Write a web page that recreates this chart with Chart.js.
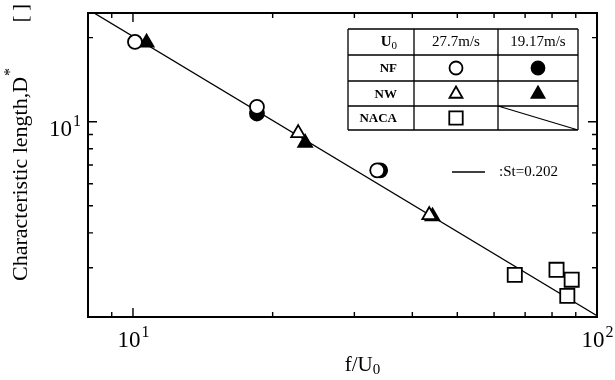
<!DOCTYPE html>
<html>
<head>
<meta charset="utf-8">
<script src="https://cdn.jsdelivr.net/npm/chart.js@4"></script>
<style>
  body { margin: 0; background: #fff; }
  #chart { display: block; }
</style>
</head>
<body>
<canvas id="chart" width="615" height="380"></canvas>
<script>
const nf277X = [10.1, 18.5, 33.6];
const nf277Y = [19.3, 11.3, 6.7];
const nf1917X = [18.5, 34.1];
const nf1917Y = [10.7, 6.7];
const nw277X = [22.7, 43.5];
const nw277Y = [9.1, 4.63];
const nw1917X = [10.7, 23.5, 44.2];
const nw1917Y = [19.2, 8.4, 4.58];
const naca277X = [66.5, 81.8, 88.2, 86.3];
const naca277Y = [2.83, 2.95, 2.72, 2.38];

// St = 0.202 line, end points
const fitX = [8, 100];
const fitY = [25.25, 2.02];

// axis ticks
const xMajorTicks = [10, 100];
const xMinorTicks = [9, 20, 30, 40, 50, 60, 70, 80, 90];
const xTickLabels = [['10', '1'], ['10', '2']];
const yMajorTicks = [10];
const yMinorTicks = [2, 3, 4, 5, 6, 7, 8, 9, 20];
const yTickLabels = [['10', '1']];

const legendSpeeds = ['27.7m/s', '19.17m/s'];
const legendRows = ['NF', 'NW', 'NACA'];

const SERIF = '"Liberation Serif", "DejaVu Serif", serif';

function toPoints(xs, ys) {
    return xs.map((x, i) => ({ x: x, y: ys[i] }));
}

function markerSet(label, xs, ys, style, filled, radius) {
    return {
        label: label,
        data: toPoints(xs, ys),
        pointStyle: style,
        pointRadius: radius,
        pointBorderWidth: 1.8,
        pointBorderColor: '#000',
        pointBackgroundColor: filled ? '#000' : '#fff',
        showLine: false,
    };
}

// text with a raised exponent, e.g. 10^1
function drawPow(ctx, base, exp, x, y, size, align) {
    ctx.font = size + 'px ' + SERIF;
    const wb = ctx.measureText(base).width;
    ctx.font = Math.round(size * 0.7) + 'px ' + SERIF;
    const we = ctx.measureText(exp).width;
    let left = x;
    if (align === 'center') left = x - (wb + we) / 2;
    if (align === 'right') left = x - wb - we;
    ctx.textAlign = 'left';
    ctx.textBaseline = 'alphabetic';
    ctx.font = size + 'px ' + SERIF;
    ctx.fillText(base, left, y);
    ctx.font = Math.round(size * 0.7) + 'px ' + SERIF;
    ctx.fillText(exp, left + wb + 1, y - size * 0.42);
}

const framePlugin = {
    id: 'frame',
    afterDraw(chart) {
        const ctx = chart.ctx;
        const a = chart.chartArea;
        const xs = chart.scales.x;
        const ys = chart.scales.y;
        ctx.save();
        ctx.strokeStyle = '#000';
        ctx.fillStyle = '#000';

        // box
        ctx.lineWidth = 2;
        ctx.strokeRect(a.left, a.top, a.right - a.left, a.bottom - a.top);

        // inward ticks
        ctx.lineWidth = 1.4;
        ctx.beginPath();
        const xTick = (v, len) => {
            const px = xs.getPixelForValue(v);
            ctx.moveTo(px, a.bottom); ctx.lineTo(px, a.bottom - len);
            ctx.moveTo(px, a.top); ctx.lineTo(px, a.top + len);
        };
        const yTick = (v, len) => {
            const py = ys.getPixelForValue(v);
            ctx.moveTo(a.left, py); ctx.lineTo(a.left + len, py);
            ctx.moveTo(a.right, py); ctx.lineTo(a.right - len, py);
        };
        xMajorTicks.forEach(v => xTick(v, 9));
        xMinorTicks.forEach(v => xTick(v, 5));
        yMajorTicks.forEach(v => yTick(v, 9));
        yMinorTicks.forEach(v => yTick(v, 5));
        ctx.stroke();

        // tick labels
        xMajorTicks.forEach((v, i) => {
            const px = xs.getPixelForValue(v);
            drawPow(ctx, xTickLabels[i][0], xTickLabels[i][1], px, a.bottom + 30, 23, 'center');
        });
        yMajorTicks.forEach((v, i) => {
            const py = ys.getPixelForValue(v);
            drawPow(ctx, yTickLabels[i][0], yTickLabels[i][1], a.left - 8, py + 14, 23, 'right');
        });

        // x title f/U0
        ctx.font = '21px ' + SERIF;
        const t1 = 'f/U';
        const w1 = ctx.measureText(t1).width;
        ctx.font = '15px ' + SERIF;
        const w2 = ctx.measureText('0').width;
        const xl = (a.left + a.right) / 2 + 20 - (w1 + w2) / 2;
        ctx.textAlign = 'left';
        ctx.font = '21px ' + SERIF;
        ctx.fillText(t1, xl, 371);
        ctx.font = '15px ' + SERIF;
        ctx.fillText('0', xl + w1, 374);

        // y title, rotated
        ctx.save();
        ctx.translate(27, 281);
        ctx.rotate(-Math.PI / 2);
        ctx.textAlign = 'left';
        ctx.font = '22px ' + SERIF;
        const yt = 'Characteristic length,D';
        const wy = ctx.measureText(yt).width;
        ctx.fillText(yt, 0, 0);
        ctx.font = '16px ' + SERIF;
        ctx.fillText('*', wy + 1, -12);
        ctx.font = '20px ' + SERIF;
        ctx.textAlign = 'right';
        ctx.fillText('[ ]', 277, 0);
        ctx.restore();

        // legend table
        const tl = 348, tr = 578, tt = 29, tb = 130;
        const cols = [tl, 414, 498, tr];
        const rows = [tt, 55, 81, 106, tb];
        ctx.lineWidth = 1.3;
        ctx.beginPath();
        cols.forEach(c => { ctx.moveTo(c, tt); ctx.lineTo(c, tb); });
        rows.forEach(r => { ctx.moveTo(tl, r); ctx.lineTo(tr, r); });
        ctx.moveTo(cols[2], rows[3]);
        ctx.lineTo(cols[3], rows[4]);
        ctx.stroke();

        ctx.textBaseline = 'middle';
        ctx.textAlign = 'right';
        ctx.font = '11px ' + SERIF;
        const uw = ctx.measureText('0').width;
        ctx.fillText('0', 397, 46);
        ctx.font = 'bold 15px ' + SERIF;
        ctx.fillText('U', 397 - uw, 42);
        ctx.font = 'bold 13px ' + SERIF;
        legendRows.forEach((r, i) => {
            ctx.fillText(r, 397, (rows[i + 1] + rows[i + 2]) / 2 + 1);
        });
        ctx.textAlign = 'center';
        ctx.font = '15px ' + SERIF;
        legendSpeeds.forEach((s, i) => {
            ctx.fillText(s, (cols[i + 1] + cols[i + 2]) / 2, 42);
        });

        const mk = (style, filled, r, x, y) => {
            ctx.fillStyle = filled ? '#000' : '#fff';
            ctx.strokeStyle = '#000';
            ctx.lineWidth = 1.8;
            Chart.helpers.drawPoint(ctx, { pointStyle: style, radius: r, borderWidth: 1.8 }, x, y);
        };
        const c1 = (cols[1] + cols[2]) / 2, c2 = (cols[2] + cols[3]) / 2;
        mk('circle', false, 6.5, c1, 68);
        mk('circle', true, 6.5, c2, 68);
        mk('triangle', false, 7.5, c1, 94);
        mk('triangle', true, 7.5, c2, 94);
        mk('rect', false, 9.5, c1, 118);

        // St line key
        ctx.strokeStyle = '#000';
        ctx.fillStyle = '#000';
        ctx.lineWidth = 1.3;
        ctx.beginPath();
        ctx.moveTo(452, 172);
        ctx.lineTo(485, 172);
        ctx.stroke();
        ctx.textAlign = 'left';
        ctx.font = '15px ' + SERIF;
        ctx.fillText(':St=0.202', 499, 172);

        ctx.restore();
    }
};

new Chart(document.getElementById('chart'), {
    type: 'scatter',
    data: {
        datasets: [
            markerSet('NF 27.7m/s', nf277X, nf277Y, 'circle', false, 7),
            markerSet('NW 27.7m/s', nw277X, nw277Y, 'triangle', false, 8),
            markerSet('NACA 27.7m/s', naca277X, naca277Y, 'rect', false, 10),
            markerSet('NF 19.17m/s', nf1917X, nf1917Y, 'circle', true, 7),
            markerSet('NW 19.17m/s', nw1917X, nw1917Y, 'triangle', true, 8),
            {
                label: 'St=0.202',
                data: toPoints(fitX, fitY),
                showLine: true,
                borderColor: '#000',
                borderWidth: 1.3,
                pointRadius: 0,
            },
        ],
    },
    options: {
        responsive: false,
        animation: false,
        layout: { padding: { left: 88, right: 18, top: 13, bottom: 63 } },
        scales: {
            x: { type: 'logarithmic', min: 8, max: 100, display: false },
            y: { type: 'logarithmic', min: 2, max: 24.5, display: false },
        },
        plugins: {
            legend: { display: false },
            tooltip: { enabled: false },
        },
    },
    plugins: [framePlugin],
});
</script>
</body>
</html>
